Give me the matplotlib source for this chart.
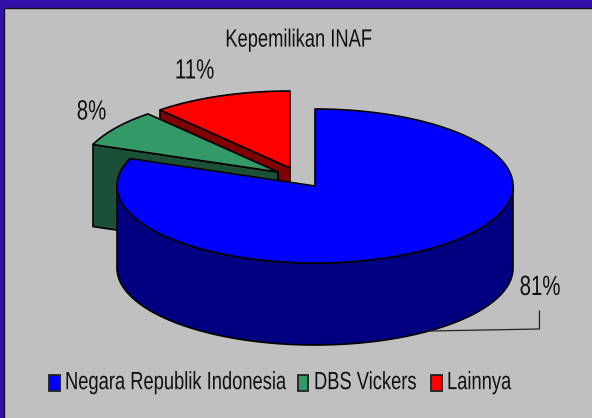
import numpy as np
import matplotlib
matplotlib.use("Agg")
import matplotlib.pyplot as plt
from matplotlib.patches import Rectangle, Polygon
from matplotlib.patheffects import AbstractPathEffect
from matplotlib.transforms import Affine2D

labels = ["Negara Republik Indonesia", "DBS Vickers", "Lainnya"]
values = [80.8, 7.8, 11.4]
pct_labels = ["81%", "8%", "11%"]
title = "Kepemilikan INAF"
top_colors = ["#0000FF", "#339966", "#FF0000"]
side_colors = ["#000080", "#1B5036", "#800000"]

FONT = "Liberation Sans"
W, H = 592, 418
SY = 1 / 0.735
fig = plt.figure(figsize=(W / 100, H / 100), dpi=100, facecolor="#3311AA")
ax = fig.add_axes([0, 0, 1, 1])
ax.set_xlim(0, W)
ax.set_ylim(H, 0)
ax.axis("off")
ax.add_patch(Rectangle((3.5, 8), W, H, fc="#C0C0C0", ec="#101020", lw=1))

RX, RY, DEPTH = 198, 77, 82
centers = [(315, 186), (278, 172), (290, 168)]
LW = 1.2


class Tall(AbstractPathEffect):
    """Draw text taller than the font, about a fixed height, so it reads as condensed."""

    def __init__(self, y, sy):
        super().__init__()
        self.y, self.sy = y, sy

    def draw_path(self, renderer, gc, tpath, affine, rgbFace=None):
        t = affine + Affine2D().translate(0, -self.y).scale(1, self.sy).translate(0, self.y)
        renderer.draw_path(gc, tpath, t, rgbFace)


def pt(c, a):
    return c[0] + RX * np.sin(a), c[1] - RY * np.cos(a)


def draw_slice(c, a0, a1, top, side, z):
    xs, ys = pt(c, np.linspace(a0, a1, 200))
    lo, hi = max(a0, np.pi / 2), min(a1, 3 * np.pi / 2)
    if hi > lo:
        wx, wy = pt(c, np.linspace(lo, hi, 200))
        ax.add_patch(Polygon(np.c_[np.r_[wx, wx[::-1]], np.r_[wy, wy[::-1] + DEPTH]],
                             fc=side, ec="#000000", lw=LW, zorder=z, joinstyle="round"))
    if a0 >= np.pi:
        x0, y0 = pt(c, a0)
        quad = [(x0, y0), c, (c[0], c[1] + DEPTH), (x0, y0 + DEPTH)]
        ax.add_patch(Polygon(quad, fc=side, ec="#000000", lw=LW, zorder=z))
    ax.add_patch(Polygon(np.c_[np.r_[c[0], xs, c[0]], np.r_[c[1], ys, c[1]]], fc=top,
                         ec="#000000", lw=LW, zorder=z + 0.5, joinstyle="round"))


fr = np.cumsum([0] + values) / sum(values) * 2 * np.pi
for i in [2, 1, 0]:
    draw_slice(centers[i], fr[i], fr[i + 1], top_colors[i], side_colors[i], 3 + (2 - i))

TXT = "#111111"


def label(x, y, s, size=13.2, ha="center"):
    ax.text(x, y, s, family=FONT, size=size, color=TXT, ha=ha, va="center", zorder=12,
            path_effects=[Tall(H - y, SY)])


label(299, 40.5, title)
label(540, 287.5, pct_labels[0], size=14.7)
label(91.5, 112, pct_labels[1], size=14.7)
label(194.5, 71, pct_labels[2], size=14.7)

ax.plot([430, 539.5, 539.5], [331, 329, 311], color="#222222", lw=0.9, zorder=10)

for sx, tx, lab, col in zip([49, 297.5, 431], [65, 314, 447], labels, top_colors):
    ax.add_patch(Rectangle((sx, 374.5), 10.5, 16.5, fc=col, ec="#222222", lw=1.3, zorder=10))
    label(tx, 383, lab, ha="left")

fig.savefig("out.png", dpi=100, facecolor=fig.get_facecolor())
